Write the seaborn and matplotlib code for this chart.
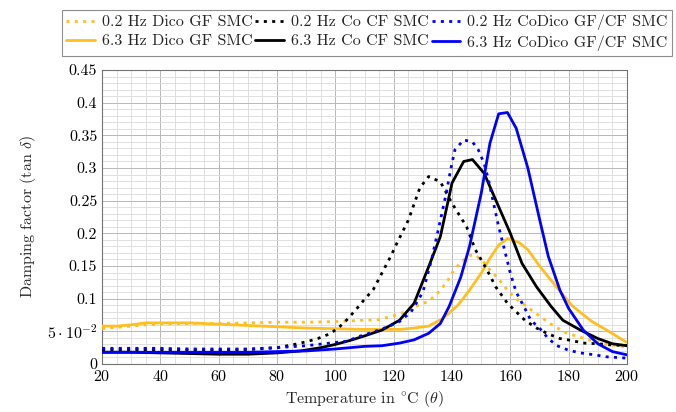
import numpy as np
import pandas as pd
import matplotlib
matplotlib.use("Agg")
import matplotlib.pyplot as plt
import seaborn as sns
from matplotlib.ticker import MultipleLocator, FixedLocator, FixedFormatter

# -------------------------------
# Data
# -------------------------------
t_dico_02 = [20, 25, 30, 35, 40, 50, 60, 70, 80, 90, 100, 110, 115, 120, 124, 128, 132, 135, 138,
             140, 143, 146, 148, 151, 153, 156, 159, 162, 165, 168, 172, 175, 179, 183, 188, 193, 200]
d_dico_02 = [0.054, 0.056, 0.058, 0.060, 0.061, 0.062, 0.062, 0.063, 0.064, 0.064, 0.065, 0.067, 0.068,
             0.074, 0.080, 0.089, 0.096, 0.108, 0.124, 0.139, 0.156, 0.166, 0.167, 0.155, 0.144, 0.130,
             0.113, 0.100, 0.090, 0.080, 0.067, 0.058, 0.048, 0.042, 0.036, 0.030, 0.026]

t_dico_63 = [20, 25, 30, 35, 40, 50, 60, 70, 80, 90, 100, 110, 116, 122, 127, 132, 137, 142, 146, 150,
             153, 156, 159, 163, 166, 170, 176, 181, 184, 188, 193, 200]
d_dico_63 = [0.058, 0.058, 0.060, 0.063, 0.063, 0.063, 0.061, 0.059, 0.057, 0.055, 0.054, 0.053, 0.053,
             0.053, 0.055, 0.058, 0.070, 0.090, 0.113, 0.139, 0.162, 0.182, 0.192, 0.186, 0.175, 0.150,
             0.117, 0.090, 0.079, 0.065, 0.052, 0.033]

t_co_02 = [20, 30, 40, 50, 60, 70, 80, 86, 90, 94, 98, 101, 104, 107, 110, 113, 115, 117, 119, 121, 125,
           129, 132, 136, 140, 145, 148, 152, 155, 159, 162, 165, 169, 173, 177, 181, 185, 190, 195, 200]
d_co_02 = [0.022, 0.022, 0.022, 0.021, 0.021, 0.022, 0.025, 0.030, 0.034, 0.039, 0.046, 0.055, 0.068,
           0.083, 0.099, 0.114, 0.131, 0.148, 0.165, 0.184, 0.220, 0.270, 0.287, 0.279, 0.246, 0.210,
           0.175, 0.144, 0.118, 0.093, 0.080, 0.067, 0.055, 0.046, 0.039, 0.036, 0.032, 0.031, 0.029, 0.028]

t_co_63 = [20, 30, 40, 50, 60, 70, 80, 88, 95, 100, 105, 110, 116, 122, 127, 132, 136, 140, 144, 147,
           151, 155, 160, 164, 169, 174, 178, 184, 190, 195, 200]
d_co_63 = [0.018, 0.018, 0.017, 0.016, 0.015, 0.015, 0.017, 0.020, 0.025, 0.030, 0.036, 0.043, 0.052,
           0.067, 0.093, 0.149, 0.195, 0.277, 0.310, 0.313, 0.292, 0.251, 0.200, 0.154, 0.118, 0.088,
           0.067, 0.052, 0.039, 0.031, 0.028]

t_codico_02 = [20, 30, 40, 50, 60, 70, 80, 90, 100, 104, 108, 113, 118, 122, 126, 130, 133, 136, 138,
               139.5, 141, 144, 147, 149, 151, 152.5, 154, 156, 158, 160, 162, 165, 167, 170, 173, 176,
               180, 184, 189, 193, 200]
d_codico_02 = [0.024, 0.024, 0.024, 0.023, 0.023, 0.023, 0.025, 0.028, 0.033, 0.035, 0.042, 0.049, 0.057,
               0.065, 0.080, 0.110, 0.160, 0.220, 0.261, 0.297, 0.328, 0.343, 0.340, 0.328, 0.307, 0.282,
               0.251, 0.210, 0.175, 0.139, 0.110, 0.085, 0.067, 0.055, 0.039, 0.028, 0.021, 0.017, 0.014,
               0.011, 0.009]

t_codico_63 = [20, 30, 40, 50, 60, 70, 80, 90, 100, 110, 116, 122, 127, 132, 136, 139, 143, 146, 150,
               153, 156, 159, 162, 166, 170, 173, 177, 180, 185, 190, 195, 200]
d_codico_63 = [0.018, 0.018, 0.018, 0.018, 0.018, 0.018, 0.019, 0.020, 0.023, 0.027, 0.028, 0.032, 0.037,
               0.047, 0.062, 0.088, 0.133, 0.180, 0.261, 0.338, 0.383, 0.385, 0.361, 0.300, 0.222, 0.165,
               0.113, 0.085, 0.052, 0.031, 0.019, 0.014]

y_ticks = [0, 0.05, 0.1, 0.15, 0.2, 0.25, 0.3, 0.35, 0.4, 0.45]
y_tick_labels = ["0", r"$5\cdot10^{-2}$", "0.1", "0.15", "0.2", "0.25", "0.3", "0.35", "0.4", "0.45"]

series = [
    ("0.2 Hz Dico GF SMC", t_dico_02, d_dico_02, "#FFBF1F", "dot"),
    ("6.3 Hz Dico GF SMC", t_dico_63, d_dico_63, "#FFBF1F", "solid"),
    ("0.2 Hz Co CF SMC", t_co_02, d_co_02, "black", "dot"),
    ("6.3 Hz Co CF SMC", t_co_63, d_co_63, "black", "solid"),
    ("0.2 Hz CoDico GF/CF SMC", t_codico_02, d_codico_02, "#0000FF", "dot"),
    ("6.3 Hz CoDico GF/CF SMC", t_codico_63, d_codico_63, "#0000FF", "solid"),
]

# -------------------------------
# Style
# -------------------------------
sns.set_theme(style="white")
plt.rcParams["font.family"] = ["cmr10", "DejaVu Serif"]
plt.rcParams["mathtext.fontset"] = "cm"
plt.rcParams["axes.formatter.use_mathtext"] = True
plt.rcParams["font.size"] = 10

fig = plt.figure(figsize=(6.76, 4.12), dpi=100)
ax = fig.add_axes([0.151, 0.1165, 0.7765, 0.7135])

for label, t, d, color, kind in series:
    df = pd.DataFrame({"T": t, "tan_d": d})
    ls = (0, (1.1, 1.9)) if kind == "dot" else "-"
    sns.lineplot(data=df, x="T", y="tan_d", ax=ax, color=color, linestyle=ls,
                 linewidth=2.0, label=label, sort=False, zorder=3)

ax.set_xlim(20, 200)
ax.set_ylim(0, 0.45)
ax.xaxis.set_major_locator(MultipleLocator(20))
ax.xaxis.set_minor_locator(MultipleLocator(5))
ax.yaxis.set_major_locator(FixedLocator(y_ticks))
ax.yaxis.set_major_formatter(FixedFormatter(y_tick_labels))
ax.yaxis.set_minor_locator(MultipleLocator(0.01))

ax.grid(which="major", color="0.72", linewidth=0.7, zorder=0)
ax.grid(which="minor", color="0.86", linewidth=0.6, zorder=0)
ax.set_axisbelow(True)
ax.tick_params(which="both", direction="in", color="0.45", labelsize=11.5, labelcolor="black")
ax.tick_params(which="major", length=4, width=0.7)
ax.tick_params(which="minor", length=2, width=0.5)
for s in ax.spines.values():
    s.set_color("0.45")
    s.set_linewidth(0.8)

ax.set_xlabel(r"Temperature in $^{\circ}$C ($\theta$)", fontsize=11.5, labelpad=4)
ax.set_ylabel(r"Damping factor (tan $\delta$)", fontsize=11.5, labelpad=6)

# legend: 3 columns, 0.2 Hz row on top
h, l = ax.get_legend_handles_labels()
ax.get_legend().remove()
leg = fig.legend(h, l, ncol=3, loc="upper center", bbox_to_anchor=(0.5425, 0.976),
                 frameon=True, fancybox=False, edgecolor="0.45", fontsize=11.5,
                 handlelength=1.8, handletextpad=0.4, columnspacing=0.2,
                 borderpad=0.3, labelspacing=0.32, borderaxespad=0.0)
leg.get_frame().set_linewidth(0.8)

fig.savefig("out.png", dpi=100)
